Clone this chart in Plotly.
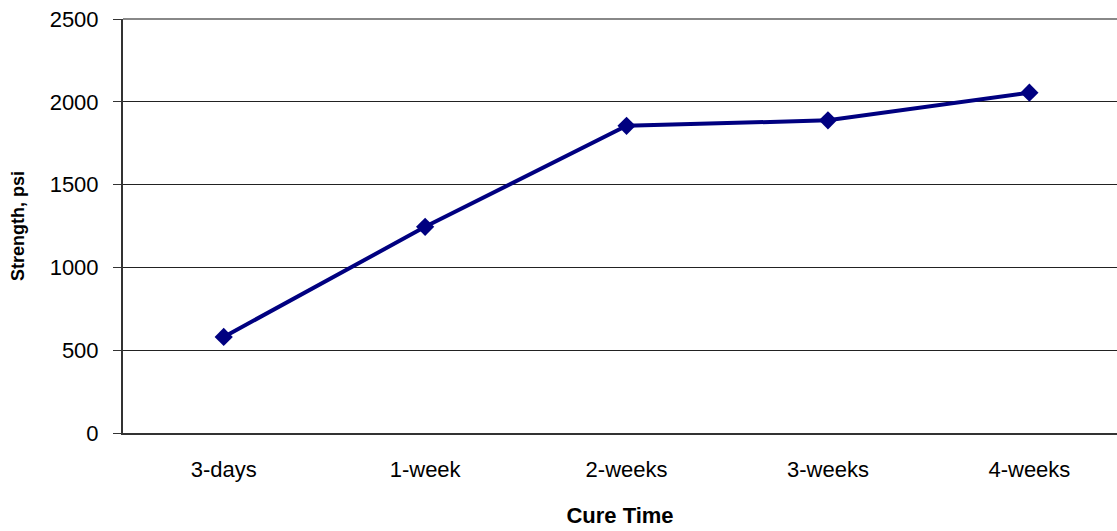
import plotly.graph_objects as go

categories = ["3-days", "1-week", "2-weeks", "3-weeks", "4-weeks"]
strength = [580, 1245, 1855, 1888, 2055]
y_ticks = [0, 500, 1000, 1500, 2000, 2500]

fig = go.Figure()
fig.add_trace(go.Scatter(
    x=categories, y=strength, mode="lines+markers",
    line=dict(color="#000080", width=4),
    marker=dict(symbol="diamond", size=14, color="#000080", line=dict(width=0)),
    showlegend=False,
))

font_family = "Liberation Sans, Arial, sans-serif"
fig.update_layout(
    width=1117, height=531,
    margin=dict(l=123, r=0, t=19, b=98),
    paper_bgcolor="white", plot_bgcolor="white",
    font=dict(family=font_family, color="black"),
    xaxis=dict(
        type="category", range=[-0.5, 4.435],
        showgrid=False, zeroline=False,
        showline=True, linecolor="#333333", linewidth=2,
        ticks="", tickfont=dict(size=22, color="black"),
        ticklabelstandoff=16,
        title=dict(text="<b>Cure Time</b>", font=dict(size=22, color="black"), standoff=26),
    ),
    yaxis=dict(
        range=[0, 2500], tickvals=y_ticks,
        showgrid=True, gridcolor="#222222", gridwidth=1,
        zeroline=False,
        showline=True, linecolor="#333333", linewidth=2,
        ticks="outside", ticklen=8, tickcolor="#333333", tickwidth=1,
        tickfont=dict(size=22, color="black"), ticklabelstandoff=10,
        title=dict(text="<b>Strength, psi</b>", font=dict(size=18, color="black"), standoff=20),
    ),
    shapes=[dict(type="line", xref="paper", yref="paper", x0=0, x1=1, y0=1, y1=1,
                 line=dict(color="#888888", width=2))],
)

fig.write_html("out.html",
               config={"displayModeBar": False},
               post_script="document.body.style.margin='0px';document.body.style.overflow='hidden';")
